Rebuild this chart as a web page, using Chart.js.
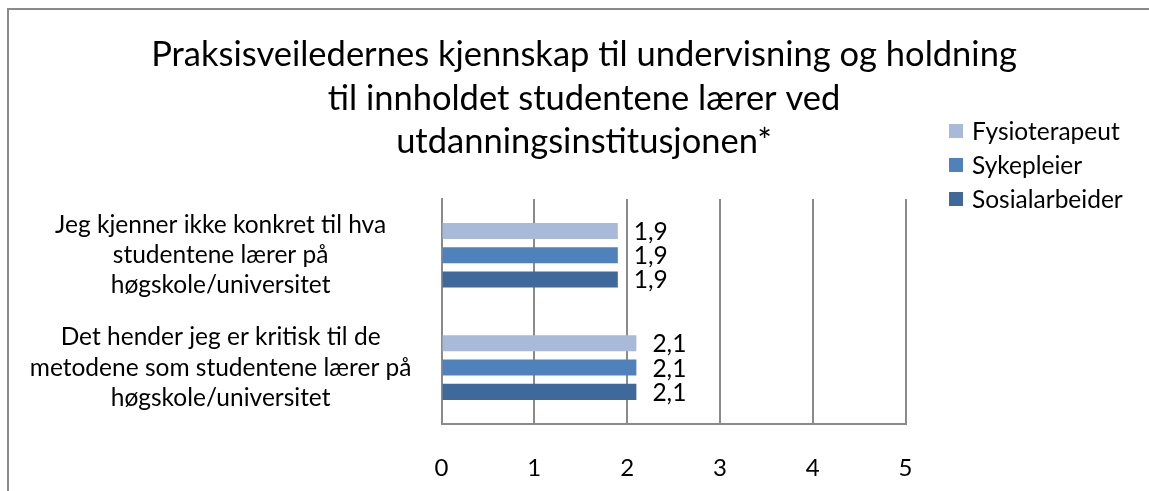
<!DOCTYPE html>
<html>
<head>
<meta charset="utf-8">
<script src="https://cdn.jsdelivr.net/npm/chart.js@4.4.0/dist/chart.umd.min.js"></script>
<style>
  html, body { margin: 0; padding: 0; background: #fff; overflow: hidden; width: 1149px; height: 491px; }
  .frame { position: absolute; left: 7px; top: 8px; width: 1200px; height: 600px; border: 2px solid #8a8a8a; }
  .box { position: absolute; left: 0; top: 0; width: 1150px; height: 481px; }
</style>
</head>
<body>
<div class="frame"><div class="box"><canvas id="chart"></canvas></div></div>
<script>
const titleLines = [
  'Praksisveiledernes kjennskap til undervisning og holdning',
  'til innholdet studentene lærer ved',
  'utdanningsinstitusjonen*'
]
const categories = [
  ['Jeg kjenner ikke konkret til hva', 'studentene lærer på', 'høgskole/universitet'],
  ['Det hender jeg er kritisk til de', 'metodene som studentene lærer på', 'høgskole/universitet']
]
const seriesNames = ['Fysioterapeut', 'Sykepleier', 'Sosialarbeider']
const fysioterapeut = [1.9, 2.1]
const sykepleier = [1.9, 2.1]
const sosialarbeider = [1.9, 2.1]
const xTicks = [0, 1, 2, 3, 4, 5]

const colors = ['#a9b9d9', '#4f81bd', '#3f699b']
const fontFamily = 'Lato, "Open Sans", sans-serif'

// title, legend and value labels drawn by hand to match the excel layout
const titlePlugin = {
  id: 'excelTitle',
  afterDraw(chart) {
    const ctx = chart.ctx
    ctx.save()
    ctx.fillStyle = '#000'
    ctx.font = `34.5px ${fontFamily}`
    ctx.textAlign = 'center'
    ctx.textBaseline = 'alphabetic'
    const cx = chart.width / 2
    titleLines.forEach((line, i) => ctx.fillText(line, cx, 56 + i * 43.5))
    ctx.restore()
  }
}

const legendPlugin = {
  id: 'excelLegend',
  afterDraw(chart) {
    const ctx = chart.ctx
    ctx.save()
    ctx.font = `24.5px ${fontFamily}`
    ctx.textBaseline = 'middle'
    ctx.textAlign = 'left'
    chart.data.datasets.forEach((ds, i) => {
      const y = 121 + i * 34
      ctx.fillStyle = ds.backgroundColor
      ctx.fillRect(940, y - 7, 14, 14)
      ctx.fillStyle = '#000'
      ctx.fillText(ds.label, 963, y + 1)
    })
    ctx.restore()
  }
}

const valueLabels = {
  id: 'valueLabels',
  afterDatasetsDraw(chart) {
    const ctx = chart.ctx
    ctx.save()
    ctx.font = `24.5px ${fontFamily}`
    ctx.fillStyle = '#000'
    ctx.textBaseline = 'middle'
    ctx.textAlign = 'left'
    chart.data.datasets.forEach((ds, i) => {
      chart.getDatasetMeta(i).data.forEach((bar, j) => {
        const txt = ds.data[j].toFixed(1).replace('.', ',')
        ctx.fillText(txt, bar.x + 16, bar.y + 1)
      })
    })
    ctx.restore()
  }
}

const seriesValues = [fysioterapeut, sykepleier, sosialarbeider]

new Chart(document.getElementById('chart'), {
  type: 'bar',
  data: {
    labels: categories,
    datasets: seriesNames.map((name, i) => ({
      label: name,
      data: seriesValues[i],
      backgroundColor: colors[i],
      borderWidth: 0,
      barPercentage: 0.66,
      categoryPercentage: 0.648
    }))
  },
  options: {
    indexAxis: 'y',
    responsive: true,
    maintainAspectRatio: false,
    animation: false,
    layout: { padding: { top: 189, left: 0, right: 253.5, bottom: 0 } },
    plugins: {
      legend: { display: false },
      title: { display: false },
      tooltip: { enabled: false }
    },
    scales: {
      x: {
        min: 0,
        max: 5,
        afterBuildTicks: (scale) => { scale.ticks = xTicks.map(v => ({ value: v })) },
        afterFit: (scale) => { scale.height = 60.5 },
        grid: { color: '#8a8a8a', lineWidth: 2, drawTicks: false },
        border: { display: true, color: '#8a8a8a', width: 2 },
        ticks: { color: '#000', padding: 30, font: { family: fontFamily, size: 24 } }
      },
      y: {
        afterFit: (scale) => { scale.width = 432.5 },
        grid: { display: false },
        border: { display: true, color: '#8a8a8a', width: 2 },
        ticks: {
          color: '#000',
          padding: 22,
          crossAlign: 'center',
          font: { family: fontFamily, size: 24.5, lineHeight: 1.23 }
        }
      }
    }
  },
  plugins: [titlePlugin, legendPlugin, valueLabels]
})
</script>
</body>
</html>
